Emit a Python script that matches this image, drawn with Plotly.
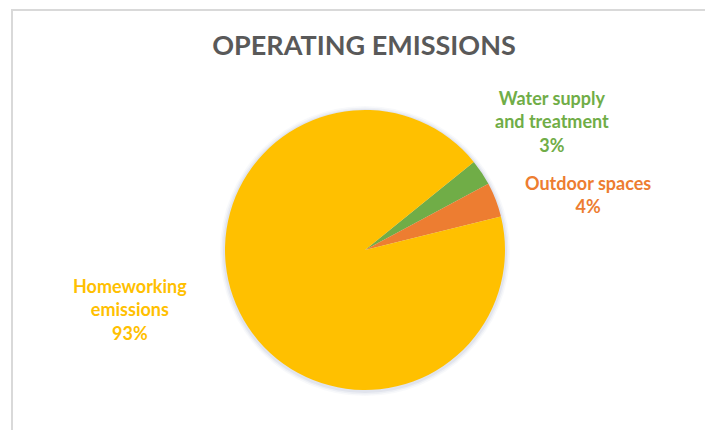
import plotly.graph_objects as go

# Operating emissions breakdown
categories = ["Water supply<br>and treatment", "Outdoor spaces", "Homeworking<br>emissions"]
shares = [3, 4, 93]
colors = ["#70AD47", "#ED7D31", "#FFC000"]

W, H = 705, 430
cx, cy, r = 365, 250, 140  # pie centre / radius in pixels


def px(x):
    return x / W


def py(y):
    return 1 - y / H


fig = go.Figure(
    go.Pie(
        labels=categories,
        values=shares,
        marker=dict(colors=colors, line=dict(width=0)),
        sort=False,
        direction="clockwise",
        rotation=51,
        textinfo="none",
        hoverinfo="label+percent",
        domain=dict(x=[px(cx - r), px(cx + r)], y=[py(cy + r), py(cy - r)]),
        showlegend=False,
    )
)

# label anchors (pixel centre of text block)
label_pos = [(552, 121), (588, 194), (130, 309)]
total = sum(shares)
for name, val, col, (lx, ly) in zip(categories, shares, colors, label_pos):
    fig.add_annotation(
        x=px(lx), y=py(ly), xref="paper", yref="paper",
        text=f"<b>{name}<br>{round(val / total * 100)}%</b>",
        showarrow=False, xanchor="center", yanchor="middle",
        font=dict(family="Lato, Carlito, sans-serif", size=18, color=col),
        align="center",
    )

shapes = []
# soft shadow around the pie
for d, op in [(5, 0.05), (3.5, 0.07), (2, 0.10)]:
    shapes.append(dict(
        type="circle", xref="paper", yref="paper", layer="below",
        x0=px(cx - r - d), x1=px(cx + r + d), y0=py(cy + r + d + 1), y1=py(cy - r - d + 1),
        fillcolor=f"rgba(120,130,170,{op})", line=dict(width=0),
    ))
# chart frame
shapes.append(dict(
    type="rect", xref="paper", yref="paper", layer="above",
    x0=px(12), x1=1.02, y0=-0.02, y1=py(10),
    line=dict(color="#d9d9d9", width=2), fillcolor="rgba(0,0,0,0)",
))

fig.update_layout(
    width=W, height=H,
    margin=dict(l=0, r=0, t=0, b=0),
    paper_bgcolor="white", plot_bgcolor="white",
    title=dict(
        text="<b>OPERATING EMISSIONS</b>",
        x=px(364), xanchor="center", y=py(46), yanchor="middle",
        font=dict(family="Lato, Carlito, sans-serif", size=27, color="#595959"),
    ),
    shapes=shapes,
)

fig.write_html("out.html")
